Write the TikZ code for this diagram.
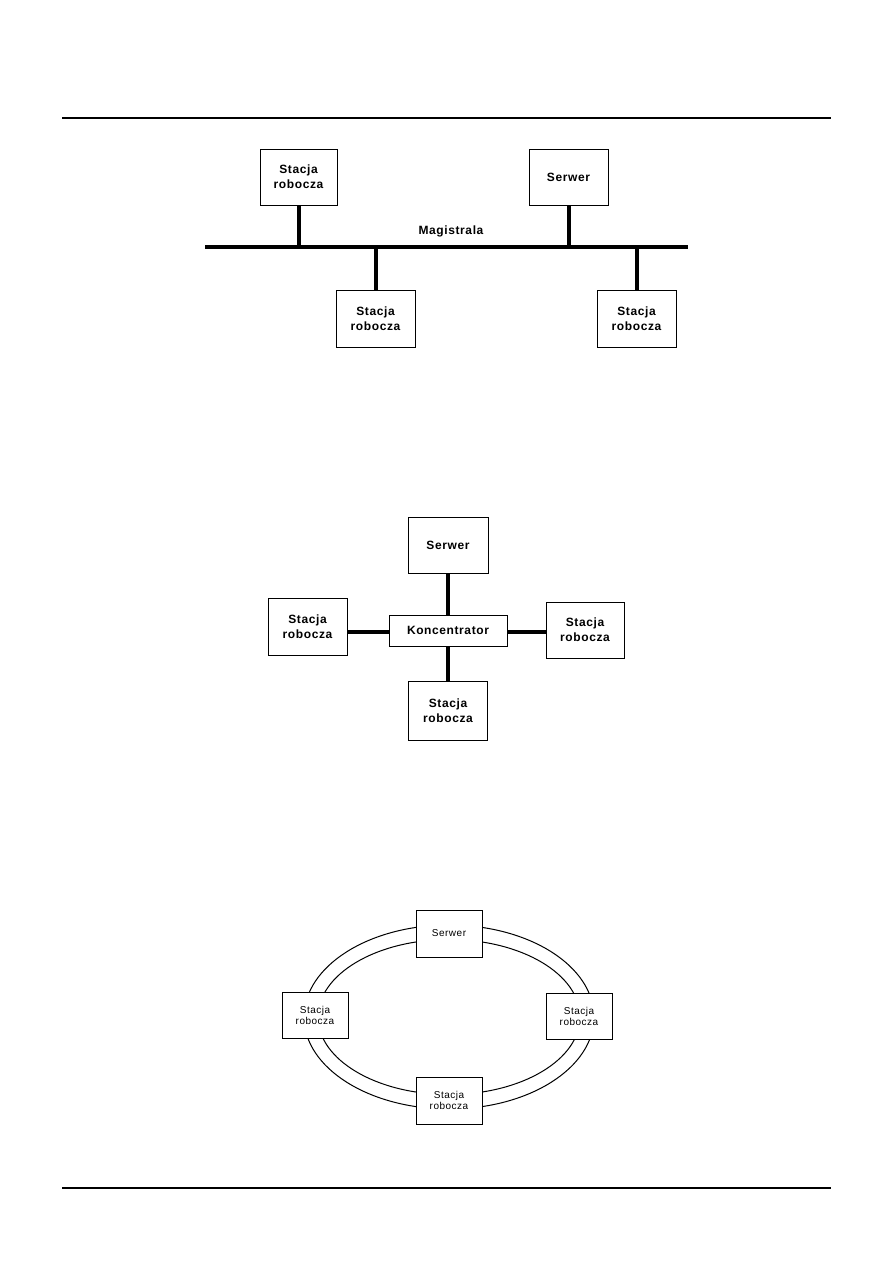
\documentclass[tikz,border=0pt]{standalone}
\usepackage{fontspec}
\setmainfont{Liberation Sans}
\newfontfamily\boxfont[LetterSpace=5]{Liberation Sans}
\usetikzlibrary{positioning,calc}

\begin{document}
\begin{tikzpicture}[
    x=1pt,y=-1pt,
    box/.style={rectangle,draw,line width=1pt,fill=white,align=center,inner sep=0pt,font=\boxfont\bfseries\fontsize{12}{15}\selectfont},
    ringbox/.style={rectangle,draw,line width=0.8pt,fill=white,align=center,inner sep=0pt,minimum width=66,minimum height=47,font=\boxfont\fontsize{10}{11}\selectfont},
    wire/.style={line width=4pt},
    rule/.style={line width=1.2pt}
]
    \useasboundingbox (0,0) rectangle (893,1263);

    % page rules
    \coordinate (topL) at (62,118);
    \coordinate (topR) at (831,118);
    \coordinate (botL) at (62,1188);
    \coordinate (botR) at (831,1188);
    \draw[rule] (topL) -- (topR);
    \draw[rule,line width=2pt] (botL) -- (botR);

    % Bus topology
    \coordinate (busL) at (205,247);
    \coordinate (busR) at (688,247);
    \draw[wire] (busL) -- (busR);
    \node[box,minimum width=77,minimum height=56] (busws1) at (298.5,177) {Stacja\\robocza};
    \node[box,minimum width=79,minimum height=56] (bussrv) at (568.5,177) {Serwer};
    \node[box,minimum width=79,minimum height=57] (busws2) at (375.5,318.5) {Stacja\\robocza};
    \node[box,minimum width=79,minimum height=57] (busws3) at (636.5,318.5) {Stacja\\robocza};
    \node[font=\boxfont\bfseries\fontsize{12}{15}\selectfont,inner sep=0pt] (buslabel) at (451,231) {Magistrala};
    \draw[wire] (busws1.south) -- (busws1.south |- busL);
    \draw[wire] (bussrv.south) -- (bussrv.south |- busL);
    \draw[wire] (busws2.north) -- (busws2.north |- busL);
    \draw[wire] (busws3.north) -- (busws3.north |- busL);

    % Star topology
    \node[box,minimum width=80,minimum height=56] (starsrv) at (448,545) {Serwer};
    \node[box,minimum width=118,minimum height=31] (hub) at (448,630.5) {Koncentrator};
    \node[box,minimum width=79,minimum height=57] (starwsL) at (307.5,626.5) {Stacja\\robocza};
    \node[box,minimum width=78,minimum height=56] (starwsR) at (585,630) {Stacja\\robocza};
    \node[box,minimum width=79,minimum height=59] (starwsB) at (448,710.5) {Stacja\\robocza};
    \draw[wire] (starsrv.south) -- (hub.north);
    \draw[wire] (hub.south) -- (starwsB.north);
    \draw[wire] ($(hub.west)+(0,1.5)$) -- ($(hub.west -| starwsL.east)+(0,1.5)$);
    \draw[wire] ($(hub.east)+(0,1.5)$) -- ($(hub.east -| starwsR.west)+(0,1.5)$);

    % Ring topology
    \coordinate (ringc) at (449,1017);
    \draw[line width=1pt] (ringc) ellipse [x radius=145,y radius=92];
    \draw[line width=1pt] (ringc) ellipse [x radius=131,y radius=77.5];
    \node[ringbox] (ringsrv) at (449,933.5) {Serwer};
    \node[ringbox,minimum height=46] (ringwsL) at (315,1015) {Stacja\\robocza};
    \node[ringbox,minimum height=46] (ringwsR) at (579,1016) {Stacja\\robocza};
    \node[ringbox] (ringwsB) at (449,1100.5) {Stacja\\robocza};
\end{tikzpicture}
\end{document}
